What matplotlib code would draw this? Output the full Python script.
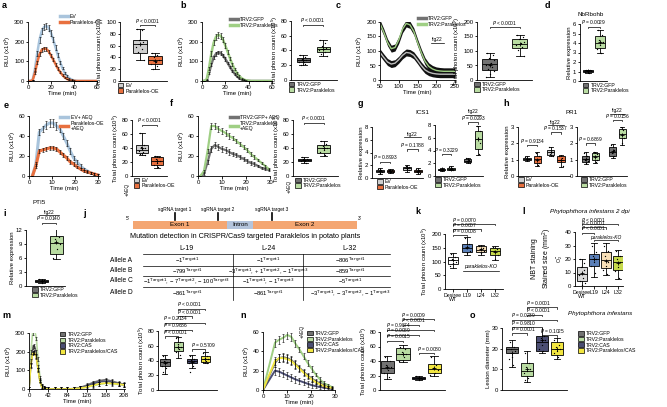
import numpy as np
import matplotlib
matplotlib.use("Agg")
import matplotlib.pyplot as plt
from matplotlib.lines import Line2D
from matplotlib.patches import Patch, Rectangle

plt.rcParams.update({"font.family": ["Liberation Sans", "DejaVu Sans"], "font.size": 4,
    "axes.linewidth": 0.6, "xtick.major.width": 0.6, "ytick.major.width": 0.6,
    "xtick.major.size": 1.8, "ytick.major.size": 1.8, "xtick.labelsize": 4.3, "ytick.labelsize": 4.3,
    "axes.labelsize": 4.3, "axes.spines.top": False, "axes.spines.right": False,
    "xtick.major.pad": 0.8, "ytick.major.pad": 0.8, "axes.labelpad": 0.8, "mathtext.default": "regular"})

W, H = 667, 407
fig = plt.figure(figsize=(W / 100, H / 100), dpi=100)

# ---------- colours ----------
C_EV, C_EVL, C_OE = "#cfcfcf", "#a9c4dc", "#e8703f"
C_GFP, C_PAR, C_PARL = "#727272", "#b9dca2", "#9fcf84"
C_CAS, C_PC = "#4b4e73", "#f2e640"
C_WT, C_L19, C_L24, C_L32 = "#d9d9d9", "#5a7fb8", "#f7dfb8", "#c6d94b"

# ---------- data: time courses ----------
t_a = [0, 2, 4, 6, 8, 10, 12, 14, 16, 18, 20, 22, 24, 26, 28, 30, 32, 34, 36, 38, 40, 42, 44, 46, 48, 50, 52, 54, 56, 58, 60]
ev_a = [0, 0, 5, 60, 140, 210, 255, 275, 280, 270, 245, 210, 170, 130, 95, 65, 40, 25, 14, 7, 3, 1, 0, 0, 0, 0, 0, 0, 0, 0, 0]
ev_a_err = [0, 0, 2, 8, 12, 15, 16, 17, 17, 16, 15, 14, 12, 10, 8, 6, 5, 4, 3, 2, 1, 1, 0, 0, 0, 0, 0, 0, 0, 0, 0]
oe_a = [0, 0, 3, 40, 95, 135, 158, 165, 163, 150, 130, 108, 85, 63, 45, 30, 18, 10, 5, 2, 1, 0, 0, 0, 0, 0, 0, 0, 0, 0, 0]
oe_a_err = [0, 0, 2, 6, 9, 10, 10, 10, 10, 9, 9, 8, 7, 6, 5, 4, 3, 2, 1, 1, 0, 0, 0, 0, 0, 0, 0, 0, 0, 0, 0]

gfp_b = [0, 0, 5, 40, 85, 120, 138, 145, 142, 130, 112, 92, 72, 53, 37, 24, 14, 8, 4, 2, 1, 0, 0, 0, 0, 0, 0, 0, 0, 0, 0]
gfp_b_err = [0, 0, 2, 5, 7, 8, 9, 9, 9, 8, 8, 7, 6, 5, 4, 3, 2, 1, 1, 0, 0, 0, 0, 0, 0, 0, 0, 0, 0, 0, 0]
par_b = [0, 0, 8, 65, 140, 195, 225, 235, 230, 210, 180, 148, 115, 85, 60, 40, 25, 14, 7, 3, 1, 0, 0, 0, 0, 0, 0, 0, 0, 0, 0]
par_b_err = [0, 0, 3, 8, 11, 13, 14, 14, 14, 13, 12, 10, 9, 7, 6, 4, 3, 2, 1, 1, 0, 0, 0, 0, 0, 0, 0, 0, 0, 0, 0]

t_c = [50, 60, 70, 80, 90, 100, 110, 120, 130, 140, 150, 160, 170, 180, 190, 200, 210, 220, 230, 240, 250]
par_c = [195, 165, 130, 108, 112, 138, 175, 195, 190, 168, 130, 95, 65, 47, 38, 33, 31, 30, 30, 30, 30]
gfp_c = [95, 78, 62, 55, 58, 70, 85, 95, 93, 85, 68, 50, 35, 27, 23, 21, 20, 20, 20, 20, 20]
err_c = 12

t_e = [1.5, 3, 4.5, 6, 7.5, 9, 10.5, 12, 13.5, 15, 16.5, 18, 19.5, 21, 22.5, 24, 25.5, 27, 28.5, 30]
ev_e = [0, 12, 44, 47, 51, 53, 53, 50, 47, 40, 33, 25, 18, 14, 10, 7, 5, 3, 2, 1]
ev_e_err = [0, 2, 3, 3, 4, 4, 4, 4, 3, 3, 3, 3, 2, 2, 2, 1, 1, 1, 1, 1]
oe_e = [0, 10, 25, 26, 27, 28, 28, 27, 24, 21, 18, 14, 12, 9, 7, 5, 4, 3, 2, 1]
oe_e_err = [0, 2, 2, 2, 2, 2, 2, 2, 2, 2, 2, 2, 2, 1, 1, 1, 1, 1, 1, 1]

t_f = [1, 2.5, 4, 5.5, 7, 8.5, 10, 11.5, 13, 14.5, 16, 17.5, 19, 20.5, 22, 23.5, 25, 26.5, 28, 29.5]
gfp_f = [0, 2, 14, 27, 31, 29, 27, 26, 24, 22, 21, 19, 17, 15, 13, 12, 10, 8, 7, 6]
par_f = [0, 5, 25, 50, 50, 47, 45, 43, 40, 38, 35, 32, 29, 26, 22, 19, 16, 13, 10, 7]
err_f = [0, 1, 2, 3, 3, 3, 3, 3, 3, 2, 2, 2, 2, 2, 2, 2, 1, 1, 1, 1]

t_m = [0, 4, 8, 12, 16, 20, 24, 28, 32, 36, 42, 56, 70, 84, 98, 112, 126, 140, 154, 168, 182, 196, 208]
gfp_m = [0, 150, 225, 230, 200, 120, 50, 15, 5, 2, 0, 0, 0, 0, 2, 8, 20, 35, 45, 50, 42, 32, 25]
par_m = [0, 200, 300, 320, 270, 160, 60, 15, 5, 2, 0, 0, 0, 0, 1, 4, 10, 18, 25, 30, 28, 25, 22]
cas_m = [0, 130, 195, 200, 175, 105, 45, 12, 4, 1, 0, 0, 0, 0, 1, 6, 15, 28, 38, 42, 36, 28, 22]
pc_m = [0, 125, 190, 195, 170, 100, 40, 10, 3, 1, 0, 0, 0, 0, 1, 4, 10, 20, 28, 32, 30, 26, 22]
err_m = 10

t_n = [0, 5, 6.7, 8.4, 10.1, 11.8, 13.5, 15.2, 16.9, 18.6, 20.3, 22, 23.7, 25.4, 27.1, 28.8]
par_n = [0, 49, 52, 54, 57, 55, 48, 42, 35, 28, 22, 16, 11, 7, 5, 3]
gfp_n = [0, 28, 33, 34, 33, 31, 27, 23, 19, 15, 12, 9, 7, 5, 3, 2]
cas_n = [0, 20, 19, 17, 15, 13, 11, 9.5, 8, 6.5, 5, 4, 3, 2.5, 2, 1]
pc_n = [0, 30, 33, 33, 32, 30, 26, 22, 18, 14, 11, 8, 6, 4, 3, 2]
err_n = [0, 4, 4, 4, 4, 4, 4, 3, 3, 3, 3, 2, 2, 2, 1, 1]

# ---------- data: box plots (whislo, q1, median, q3, whishi) + points ----------
a_stats = [(35, 48, 62, 70, 88), (20, 28, 35, 42, 48)]
a_pts = [[88, 86, 70, 66, 62, 58, 55, 50, 35], [48, 44, 40, 36, 32, 28, 25, 20]]
b_stats = [(20, 24, 27, 30, 34), (32, 38, 42, 45, 54)]
b_pts = [[34, 31, 29, 27, 25, 24, 22, 20], [54, 50, 46, 44, 42, 40, 38, 35, 32]]
c_stats = [(11, 34, 55, 74, 94), (82, 112, 125, 140, 154)]
c_pts = [[94, 85, 75, 68, 60, 52, 45, 38, 30, 20, 11], [154, 148, 140, 132, 126, 120, 115, 105, 82]]
d_stats = [(0.85, 0.98, 1.05, 1.12, 1.2), (3.0, 3.5, 4.0, 4.7, 5.4)]
d_pts = [[1.2, 1.15, 1.1, 1.05, 1.0, 0.95, 0.88], [5.4, 4.8, 4.3, 4.1, 3.8, 3.4, 3.0]]
e_stats = [(30, 33, 37, 44, 62), (12, 16, 22, 27, 29)]
e_pts = [[62, 45, 42, 40, 38, 36, 34, 32, 30], [29, 27, 25, 22, 19, 16, 13]]
f_stats = [(19, 21, 23, 25, 27), (28, 33, 40, 45, 50)]
f_pts = [[27, 25, 24, 23, 22, 21, 19], [50, 46, 43, 40, 37, 34, 30]]
g1_stats = [(0.7, 0.9, 1.1, 1.3, 1.5), (0.8, 0.95, 1.1, 1.25, 1.4), (1.0, 1.2, 1.5, 1.8, 2.0), (0.7, 0.9, 1.1, 1.3, 1.5)]
g1_pts = [[1.4, 1.2, 1.1, 0.9, 0.8], [1.3, 1.2, 1.1, 1.0, 0.9], [1.9, 1.7, 1.4, 1.2], [1.4, 1.2, 1.0, 0.8]]
g2_stats = [(0.8, 0.9, 1.0, 1.1, 1.2), (0.9, 1.0, 1.1, 1.3, 1.5), (2.0, 2.2, 2.4, 2.6, 2.9), (3.3, 4.3, 5.8, 7.0, 7.8)]
g2_pts = [[1.15, 1.05, 1.0, 0.9], [1.4, 1.2, 1.1, 1.0], [2.8, 2.5, 2.3, 2.1], [7.8, 7.0, 6.0, 5.2, 3.4]]
h1_stats = [(0.9, 0.95, 1.05, 1.1, 1.2), (0.6, 0.8, 1.05, 1.25, 1.45), (1.2, 1.3, 1.45, 1.6, 1.8), (0.55, 0.85, 1.0, 1.2, 1.3)]
h1_pts = [[1.15, 1.05, 1.0], [1.4, 1.2, 1.0, 0.8, 0.65], [1.75, 1.5, 1.35, 1.25], [1.25, 1.1, 0.95, 0.6]]
h2_stats = [(0.75, 0.85, 1.05, 1.25, 1.45), (0.8, 0.95, 1.2, 1.4, 1.5), (1.1, 1.25, 1.5, 1.75, 1.95), (1.9, 2.3, 2.55, 2.85, 3.0)]
h2_pts = [[1.4, 1.2, 1.0, 0.9, 0.8], [1.5, 1.35, 1.2, 1.0, 0.85], [1.9, 1.6, 1.4, 1.2], [3.0, 2.8, 2.6, 2.3, 2.0]]
i_stats = [(0.6, 0.8, 1.0, 1.2, 1.4), (5.8, 6.8, 9.3, 10.8, 13.0)]
i_pts = [[1.4, 1.2, 1.0, 0.9, 0.7], [13, 10.5, 10.0, 9.0, 8.0, 6.0]]
k_stats = [(75, 92, 105, 115, 130), (125, 135, 148, 165, 190), (125, 133, 143, 155, 160), (105, 125, 140, 150, 155)]
k_pts = [[128, 115, 108, 100, 95, 85], [185, 165, 150, 140, 130], [158, 150, 145, 138, 130], [152, 145, 138, 125, 110]]
l_stats = [(0, 4, 9, 14, 20), (7, 15, 20, 24, 32), (8, 13, 19, 25, 32), (5, 12, 18, 22, 27)]
l_pts = [[20, 17, 14, 12, 10, 8, 6, 4, 2, 1], [30, 25, 22, 20, 18, 15, 10], [30, 26, 22, 18, 15, 12, 9], [26, 22, 20, 18, 14, 11, 6]]
m_stats = [(22, 33, 38, 42, 48), (43, 53, 58, 65, 72), (30, 37, 40, 42, 47), (36, 38, 42, 46, 51)]
m_pts = [[46, 42, 40, 38, 36, 33, 30, 25], [70, 65, 62, 58, 55, 52, 48], [46, 42, 41, 40, 38, 36, 33, 24], [50, 46, 44, 42, 40, 38, 37]]
n_stats = [(15, 23, 30, 40, 47), (38, 42, 50, 58, 62), (14, 15, 16, 18, 20), (20, 23, 29, 36, 47)]
n_pts = [[45, 40, 35, 32, 28, 24, 18], [60, 56, 52, 49, 45, 40], [19, 17, 16, 15, 14], [45, 35, 30, 27, 23, 21]]
o_stats = [(11, 18, 20, 21, 24), (4, 7, 9, 13, 19), (18, 19, 23, 26, 34), (15, 17, 20, 23, 25)]
o_pts = [[23, 21, 20, 19, 16, 15, 12], [18, 13, 11, 10, 9, 8, 6, 5], [33, 26, 25, 24, 22, 20, 19], [24, 22, 21, 20, 19, 18, 16]]

JIT = np.array([-0.22, 0.18, -0.08, 0.26, 0.04, -0.28, 0.13, -0.16, 0.3, 0.0, -0.24, 0.1])
PTXT = r"$\it{P}$"
FS_P = 3.5
FS_LEG = 3.7


def add_ax(x0, y0, x1, y1):
    return fig.add_axes([x0 / W, 1 - y1 / H, (x1 - x0) / W, (y1 - y0) / H])


def draw_boxes(ax, stats, pts, colors, pos, width, xlim, ylim, yticks):
    st = [dict(whislo=s[0], q1=s[1], med=s[2], q3=s[3], whishi=s[4], fliers=[]) for s in stats]
    bp = ax.bxp(st, positions=pos, widths=width, capwidths=width * 0.55, patch_artist=True,
                showfliers=False, manage_ticks=False,
                boxprops=dict(linewidth=0.6, edgecolor="k"), medianprops=dict(color="k", lw=0.6),
                whiskerprops=dict(lw=0.6), capprops=dict(lw=0.6))
    for patch, c in zip(bp["boxes"], colors):
        patch.set_facecolor(c)
    for p, vals in zip(pos, pts):
        ax.scatter(p + JIT[:len(vals)] * width, vals, s=0.9, c="k", lw=0, zorder=3)
        ax.plot(p, np.mean(vals), "+", color="k", ms=3.5, mew=0.6, zorder=4)
    ax.set_xlim(xlim); ax.set_ylim(ylim); ax.set_yticks(yticks); ax.set_xticks([])


def bracket(ax, x1, x2, y, txt, ha="center", d=None, style="normal"):
    lo, hi = ax.get_ylim()
    d = (hi - lo) * 0.025 if d is None else d
    ax.plot([x1, x1, x2, x2], [y - d, y, y, y - d], color="k", lw=0.5, clip_on=False)
    xt = (x1 + x2) / 2 if ha == "center" else x1 - 0.1
    ax.annotate(txt, (xt, y), xytext=(0, 0.3), textcoords="offset points", ha=ha, va="bottom",
                fontsize=FS_P, style=style, annotation_clip=False)


def fig22(ax, x1, x2, y):
    ax.plot([x1, x2], [y, y], color="k", lw=0.5, clip_on=False)
    ax.annotate("fig22", ((x1 + x2) / 2, y), xytext=(0, 0.4), textcoords="offset points",
                ha="center", va="bottom", fontsize=FS_P, annotation_clip=False)


def leg_under(ax, labels, colors, x=-0.05, y=-0.03):
    h = [Patch(facecolor=c, edgecolor="k", lw=0.5) for c in colors]
    ax.legend(h, labels, loc="upper left", bbox_to_anchor=(x, y), frameon=False, fontsize=FS_LEG,
              handlelength=1.1, handleheight=1.0, handletextpad=0.4, labelspacing=0.12,
              borderpad=0, borderaxespad=0)


def leg_lines(ax, labels, colors, x, y, lw=2.5):
    h = [Line2D([], [], color=c, lw=lw) for c in colors]
    ax.legend(h, labels, loc="upper left", bbox_to_anchor=(x, y), frameon=False, fontsize=FS_LEG,
              handlelength=1.6, handletextpad=0.4, labelspacing=0.15, borderpad=0, borderaxespad=0)


def tcurve(ax, t, y, err, color, lw=1.8):
    ax.plot(t, y, color=color, lw=lw, zorder=2)
    ax.errorbar(t, y, yerr=err, fmt="none", ecolor="k", elinewidth=0.4, capsize=1, capthick=0.4, zorder=3)


RLU = r"RLU (x10$^3$)"
TPC = r"Total photon count (x10$^5$)"
REL = "Relative expression"

# ---------- a ----------
ax = add_ax(28, 22, 97, 81)
tcurve(ax, t_a, ev_a, ev_a_err, C_EVL)
tcurve(ax, t_a, oe_a, oe_a_err, C_OE)
ax.set_xlim(0, 60); ax.set_ylim(0, 300); ax.set_xticks([0, 20, 40, 60]); ax.set_yticks([0, 100, 200, 300])
ax.set_xlabel("Time (min)"); ax.set_ylabel(RLU)
leg_lines(ax, ["EV", "Paraklelos-OE"], [C_EVL, C_OE], 0.46, 1.14)
ax = add_ax(120, 22, 167, 81)
draw_boxes(ax, a_stats, a_pts, [C_EV, C_OE], [1, 2], 0.9, (-0.33, 2.8), (0, 100), [0, 20, 40, 60, 80, 100])
ax.set_ylabel(TPC)
bracket(ax, 1, 2, 95, PTXT + " < 0.0001")
leg_under(ax, ["EV", "Paraklelos-OE"], [C_EV, C_OE])

# ---------- b ----------
ax = add_ax(202, 22, 272, 81)
tcurve(ax, t_a, gfp_b, gfp_b_err, C_GFP)
tcurve(ax, t_a, par_b, par_b_err, C_PARL)
ax.set_xlim(0, 60); ax.set_ylim(0, 300); ax.set_xticks([0, 20, 40, 60]); ax.set_yticks([0, 100, 200, 300])
ax.set_xlabel("Time (min)"); ax.set_ylabel(RLU)
leg_lines(ax, ["TRV2:GFP", "TRV2:Paraklelos"], [C_GFP, C_PARL], 0.4, 1.08)
ax = add_ax(291, 21, 337, 80)
draw_boxes(ax, b_stats, b_pts, [C_GFP, C_PAR], [1, 2], 0.65, (0.4, 2.7), (0, 80), [0, 20, 40, 60, 80])
ax.set_ylabel(TPC)
bracket(ax, 1, 2, 75, PTXT + " < 0.0001")
leg_under(ax, ["TRV2:GFP", "TRV2:Paraklelos"], [C_GFP, C_PAR])

# ---------- c ----------
ax = add_ax(380, 22, 455, 80)
for y, c in [(gfp_c, "#bdbdbd"), (par_c, C_PARL)]:
    y = np.array(y)
    ax.fill_between(t_c, y - err_c, y + err_c, color="#111111", lw=0, zorder=1)
    ax.plot(t_c, y, color=c, lw=1.0, zorder=2)
ax.set_xlim(50, 250); ax.set_ylim(0, 200); ax.set_xticks([50, 100, 150, 200, 250]); ax.set_yticks([0, 50, 100, 150, 200])
ax.set_xlabel("Time (min)"); ax.set_ylabel(r"RLU (x10$^2$)")
leg_lines(ax, ["TRV2:GFP", "TRV2:Paraklelos"], [C_GFP, C_PARL], 0.5, 1.1)
fig22(ax, 185, 220, 128)
ax = add_ax(477, 22, 532, 80)
draw_boxes(ax, c_stats, c_pts, [C_GFP, C_PAR], [1, 2], 0.5, (0.57, 2.4), (0, 200), [0, 50, 100, 150, 200])
ax.set_ylabel(TPC)
bracket(ax, 1, 2, 183, PTXT + " < 0.0001")
leg_under(ax, ["TRV2:GFP", "TRV2:Paraklelos"], [C_GFP, C_PAR])

# ---------- d ----------
ax = add_ax(580, 24, 607, 81)
draw_boxes(ax, d_stats, d_pts, [C_GFP, C_PAR], [1, 2], 0.8, (0.33, 2.58), (0, 6), [0, 1, 2, 3, 4, 5, 6])
ax.set_ylabel(REL)
bracket(ax, 1, 2, 5.7, PTXT + " = 0.0029")
leg_under(ax, ["TRV2:GFP", "TRV2:Paraklelos"], [C_GFP, C_PAR], x=0.1)

# ---------- e ----------
ax = add_ax(29, 116, 100, 176)
tcurve(ax, t_e, ev_e, ev_e_err, C_EVL, lw=2.2)
tcurve(ax, t_e, oe_e, oe_e_err, C_OE, lw=2.2)
ax.set_xlim(0, 31); ax.set_ylim(0, 60); ax.set_xticks([0, 10, 20, 30]); ax.set_yticks([0, 20, 40, 60])
ax.set_xlabel("Time (min)"); ax.set_ylabel(r"RLU (x10$^2$)")
leg_lines(ax, ["EV+ AEQ", "Paraklelos-OE\n+AEQ"], [C_EVL, C_OE], 0.44, 1.02)
ax = add_ax(132, 120, 167, 176)
draw_boxes(ax, e_stats, e_pts, [C_EV, C_OE], [1, 2], 0.75, (0.33, 2.67), (0, 80), [0, 20, 40, 60, 80])
ax.set_ylabel(TPC)
bracket(ax, 1, 2, 73, PTXT + " < 0.0001")
leg_under(ax, ["EV", "Paraklelos-OE"], [C_EV, C_OE], x=0.05)

# ---------- f ----------
ax = add_ax(198, 116, 270, 176)
tcurve(ax, t_f, gfp_f, err_f, C_GFP, lw=1.6)
tcurve(ax, t_f, par_f, err_f, C_PARL, lw=1.6)
ax.set_xlim(0, 30); ax.set_ylim(0, 60); ax.set_xticks([0, 10, 20, 30]); ax.set_yticks([0, 20, 40, 60])
ax.set_xlabel("Time (min)"); ax.set_ylabel(r"RLU (x10$^2$)")
leg_lines(ax, ["TRV2:GFP+ AEQ", "TRV2:Paraklelos\n+AEQ"], [C_GFP, C_PARL], 0.44, 1.02)
ax = add_ax(293, 120, 338, 176)
draw_boxes(ax, f_stats, f_pts, [C_GFP, C_PAR], [1, 2], 0.7, (0.4, 2.75), (0, 80), [0, 20, 40, 60, 80])
ax.set_ylabel(TPC)
bracket(ax, 1, 2, 76, PTXT + " < 0.0001")
leg_under(ax, ["TRV2:GFP", "TRV2:Paraklelos"], [C_GFP, C_PAR], x=0.05)

# ---------- g ----------
ax = add_ax(372, 127, 423, 178)
draw_boxes(ax, g1_stats, g1_pts, [C_EV, C_OE, C_EV, C_OE], [1, 2, 3.6, 4.6], 0.75, (0.24, 5.1), (0, 8), [0, 2, 4, 6, 8])
ax.set_ylabel(REL)
bracket(ax, 1, 2, 2.56, PTXT + " = 0.8993")
bracket(ax, 3.6, 4.6, 4.5, PTXT + " = 0.1788")
fig22(ax, 3.3, 4.9, 6.4)
leg_under(ax, ["EV", "Paraklelos-OE"], [C_EV, C_OE], x=0.1, y=-0.02)
ax = add_ax(435, 125, 483, 176)
draw_boxes(ax, g2_stats, g2_pts, [C_GFP, C_PAR, C_GFP, C_PAR], [1, 2, 3.8, 4.9], 0.75, (0.3, 5.4), (0, 8), [0, 2, 4, 6, 8])
bracket(ax, 1, 2, 3.45, PTXT + " = 0.3229")
bracket(ax, 3.8, 4.9, 8.4, PTXT + " = 0.0293")
fig22(ax, 3.5, 5.2, 9.6)
leg_under(ax, ["TRV2:GFP", "TRV2:Paraklelos"], [C_GFP, C_PAR], x=0.0, y=-0.02)

# ---------- h ----------
ax = add_ax(518, 127, 570, 176)
draw_boxes(ax, h1_stats, h1_pts, [C_EV, C_OE, C_EV, C_OE], [1, 2, 3.3, 4.3], 0.75, (0.1, 5.2), (0, 3), [0, 1, 2, 3])
ax.set_ylabel(REL)
bracket(ax, 1, 2, 1.9, PTXT + " = 0.9134")
bracket(ax, 3.3, 4.3, 2.67, PTXT + " = 0.1537")
fig22(ax, 3.0, 4.6, 3.1)
leg_under(ax, ["EV", "Paraklelos-OE"], [C_EV, C_OE], x=0.0, y=-0.02)
ax = add_ax(577, 127, 627, 176)
draw_boxes(ax, h2_stats, h2_pts, [C_GFP, C_PAR, C_GFP, C_PAR], [1, 2, 3.8, 4.8], 0.75, (0.1, 5.3), (0, 3), [0, 1, 2, 3])
bracket(ax, 1, 2, 2.0, PTXT + " = 0.6869")
bracket(ax, 3.8, 4.8, 3.43, PTXT + " = 0.0156")
fig22(ax, 3.5, 5.1, 3.8)
leg_under(ax, ["TRV2:GFP", "TRV2:Paraklelos"], [C_GFP, C_PAR], x=0.08, y=-0.02)

# ---------- i ----------
ax = add_ax(26, 230, 65, 286)
draw_boxes(ax, i_stats, i_pts, [C_GFP, C_PAR], [1, 2], 0.9, (-0.07, 2.6), (0, 12), [0, 3, 6, 9, 12])
ax.set_ylabel(REL)
bracket(ax, 1, 2, 13.6, PTXT + " = 0.0140")
fig22(ax, 0.8, 2.2, 15.2)
leg_under(ax, ["TRV2:GFP", "TRV2:Paraklelos"], [C_GFP, C_PAR], x=0.15, y=-0.02)

# ---------- k ----------
ko_labels = ["Desiree\nWT", "L19", "L24", "L32"]
ax = add_ax(445, 234, 503, 289)
draw_boxes(ax, k_stats, k_pts, ["white", C_L19, C_L24, C_L32], [1, 2, 3, 4], 0.75, (0.43, 4.57), (0, 200), [0, 50, 100, 150, 200])
ax.set_xticks([1, 2, 3, 4]); ax.set_xticklabels(ko_labels, fontsize=3.8, linespacing=0.8)
ax.set_ylabel(TPC)
bracket(ax, 1, 4, 236, PTXT + " = 0.0070", ha="left")
bracket(ax, 1, 3, 217, PTXT + " = 0.0007", ha="left")
bracket(ax, 1, 2, 196, PTXT + " = 0.0008", ha="left")
ax.plot([1.7, 4.3], [67, 67], color="k", lw=0.5)
ax.text(3.0, 72, "paraklelos-KO", style="italic", ha="center", va="bottom", fontsize=3.8)

# ---------- l ----------
ax = add_ax(575, 232, 623, 286)
draw_boxes(ax, l_stats, l_pts, [C_WT, C_L19, C_L24, C_L32], [1, 2, 3, 4], 0.8, (0.42, 4.42), (0, 40), [0, 10, 20, 30, 40])
ax.set_xticks([1, 2, 3, 4]); ax.set_xticklabels(ko_labels, fontsize=3.8, linespacing=0.8)
ax.set_ylabel("NBT staining\nStained size (mm$^2$)", fontsize=5, labelpad=8)
ax.text(-0.31, 0.5, r"O$_2^{-}$", transform=ax.transAxes, rotation=90, ha="center", va="center", fontsize=3.8)
bracket(ax, 1, 4, 45.9, PTXT + " < 0.0001", ha="left")
bracket(ax, 1, 3, 43.5, PTXT + " < 0.0001", ha="left")
bracket(ax, 1, 2, 39.5, PTXT + " < 0.0001", ha="left")
bracket(ax, 2, 4, 34, "paraklelos-KO", style="italic")

# ---------- m ----------
ax = add_ax(29, 333, 125, 389)
for y, c in [(gfp_m, C_GFP), (par_m, C_PAR), (cas_m, C_CAS), (pc_m, C_PC)]:
    tcurve(ax, t_m, y, err_m, c, lw=1.2)
ax.set_xlim(0, 210); ax.set_ylim(0, 300); ax.set_xticks([0, 42, 84, 126, 168, 208]); ax.set_yticks([0, 100, 200, 300])
ax.set_xlabel("Time (min)"); ax.set_ylabel(RLU)
grp = ["TRV2:GFP", "TRV2:Paraklelos", "TRV2:CAS", "TRV2:Paraklelos/CAS"]
grp_c = [C_GFP, C_PAR, C_CAS, C_PC]
leg_under(ax, grp, grp_c, x=0.32, y=1.02)
ax = add_ax(158, 331, 217, 390)
draw_boxes(ax, m_stats, m_pts, grp_c, [1, 2, 3, 4], 0.7, (0.5, 4.85), (0, 80), [0, 20, 40, 60, 80])
ax.set_ylabel(TPC)
bracket(ax, 2, 4, 110, PTXT + " < 0.0001", ha="left")
bracket(ax, 2, 3, 100, PTXT + " < 0.0001", ha="left")
bracket(ax, 1, 4, 91, PTXT + " = 0.2134", ha="left")
bracket(ax, 1, 3, 82, PTXT + " = 0.9686", ha="left")
bracket(ax, 1, 2, 73, PTXT + " < 0.0001", ha="left")
bracket(ax, 3, 4, 55, PTXT + " = 0.5709", ha="left")

# ---------- n ----------
ax = add_ax(263, 332, 335, 390)
for y, c in [(gfp_n, C_GFP), (par_n, C_PARL), (cas_n, C_CAS), (pc_n, C_PC)]:
    tcurve(ax, t_n, y, err_n, c, lw=1.4)
ax.set_xlim(0, 30); ax.set_ylim(0, 60); ax.set_xticks([0, 10, 20, 30]); ax.set_yticks([0, 20, 40, 60])
ax.set_xlabel("Time (min)"); ax.set_ylabel(r"RLU (x10$^2$)")
leg_under(ax, grp, grp_c, x=0.61, y=1.02)
ax = add_ax(380, 332, 445, 390)
draw_boxes(ax, n_stats, n_pts, grp_c, [1, 2, 3, 4], 0.85, (0.52, 4.7), (0, 80), [0, 20, 40, 60, 80])
ax.set_ylabel(TPC)
bracket(ax, 2, 4, 98, PTXT + " = 0.0009", ha="left")
bracket(ax, 2, 3, 90, PTXT + " < 0.0001", ha="left")
bracket(ax, 1, 4, 83, PTXT + " = 0.9874", ha="left")
bracket(ax, 1, 3, 76, PTXT + " = 0.0069", ha="left")
bracket(ax, 1, 2, 68, PTXT + " = 0.0015", ha="left")
bracket(ax, 3, 4, 51, PTXT + " = 0.0080", ha="left")

# ---------- o ----------
ax = add_ax(502, 328, 567, 390)
draw_boxes(ax, o_stats, o_pts, grp_c, [1, 2, 3, 4], 0.75, (0.33, 4.67), (0, 30), [0, 10, 20, 30])
ax.set_ylabel("Lesion diameter (mm)")
bracket(ax, 2, 4, 40, PTXT + " = 0.0001", ha="left")
bracket(ax, 2, 3, 36.5, PTXT + " < 0.0001", ha="left")
bracket(ax, 1, 4, 34, PTXT + " = 0.0239", ha="left")
bracket(ax, 1, 3, 30.5, PTXT + " = 0.9810", ha="left")
bracket(ax, 1, 2, 27.5, PTXT + " = 0.0001", ha="left")
bracket(ax, 3, 4, 26.5, PTXT + " = 0.1025", ha="left")
leg_under(ax, grp, grp_c, x=1.17, y=0.95)

# ---------- overlay: letters, titles, panel j ----------
ov = fig.add_axes([0, 0, 1, 1])
ov.set_xlim(0, W); ov.set_ylim(H, 0); ov.axis("off")
letters = {"a": (2, 5), "b": (180, 5), "c": (336, 5), "d": (545, 6), "e": (4, 105), "f": (170, 103),
           "g": (358, 104), "h": (503, 104), "i": (3, 213), "j": (83, 213), "k": (415, 212),
           "l": (522, 212), "m": (2, 316), "n": (240, 316), "o": (470, 315)}
for s, (x, y) in letters.items():
    ov.text(x, y, s, fontsize=6.5, fontweight="bold", va="center")
ov.text(591, 15, "NbRbohb", fontsize=4.5, ha="center", va="center")
ov.text(422, 112, "ICS1", fontsize=4.5, ha="center", va="center")
ov.text(572, 112, "PR1", fontsize=4.5, ha="center", va="center")
ov.text(39, 203, "PTI5", fontsize=4.5, ha="center", va="center")
ov.text(590, 211, "Phytophthora infestans 2 dpi", fontsize=4.5, style="italic", ha="center", va="center")
ov.text(600, 314, "Phytophthora infestans", fontsize=4.5, style="italic", ha="center", va="center")
for x, y in [(127, 189), (289, 186), (302, 331)]:
    ov.text(x, y, "+AEQ", fontsize=3.5, rotation=90, ha="center", va="center")

# gene structure
ov.add_patch(Rectangle((133, 221), 94, 8, color="#f4a672", lw=0))
ov.add_patch(Rectangle((227, 221), 26, 8, color="#b4c4dc", lw=0))
ov.add_patch(Rectangle((253, 221), 104, 8, color="#f4a672", lw=0))
ov.text(180, 225, "Exon 1", fontsize=4.5, ha="center", va="center")
ov.text(240, 225, "Intron", fontsize=4.5, ha="center", va="center")
ov.text(305, 225, "Exon 2", fontsize=4.5, ha="center", va="center")
ov.text(130, 218, "5'", fontsize=3.5, ha="right", va="center")
ov.text(358, 218, "3'", fontsize=3.5, ha="left", va="center")
for x, s in [(175, "sgRNA target 1"), (218, "sgRNA target 2"), (272, "sgRNA target 3")]:
    ov.plot([x, x], [213, 220], color="k", lw=1.2)
    ov.text(x, 209, s, fontsize=3.5, ha="center", va="center")
ov.text(245, 237, "Mutation detection in CRISPR/Cas9 targeted Paraklelos in potato plants",
        fontsize=5.2, ha="center", va="center")

# mutation table
col_x = [187, 268, 350]
row_y = [260, 271, 281, 293]
for x, s in zip(col_x, ["L-19", "L-24", "L-32"]):
    ov.text(x, 248, s, fontsize=5, ha="center", va="center")
for y in [254, 266, 276, 287]:
    ov.plot([143, 390], [y, y], color="k", lw=0.5)
for x in [233, 303]:
    ov.plot([x, x], [254, 300], color="k", lw=0.5)
T1, T2, T3 = r"^{\mathrm{Target1}}", r"^{\mathrm{Target2}}", r"^{\mathrm{Target3}}"
cells = [["$-1" + T1 + "$", "$-1" + T1 + "$", "$-806" + T1 + "$"],
         ["$-799" + T1 + "$", "$-3" + T1 + ", +1" + T2 + ", -1" + T3 + "$", "$-859" + T1 + "$"],
         ["$-1" + T1 + ", -7" + T2 + ", -100" + T3 + "$", "$-1" + T1 + ", -1" + T3 + "$", "$-5" + T1 + "$"],
         ["$-861" + T1 + "$", "$-861" + T1 + "$", "$-3" + T1 + ", -3" + T2 + ", -1" + T3 + "$"]]
for y, lab, row in zip(row_y, ["Allele A", "Allele B", "Allele C", "Allele D"], cells):
    ov.text(110, y, lab, fontsize=4.8, ha="left", va="center")
    for x, s in zip(col_x, row):
        ov.text(x, y, s, fontsize=4.2, ha="center", va="center")

fig.savefig("out.png", dpi=100)
